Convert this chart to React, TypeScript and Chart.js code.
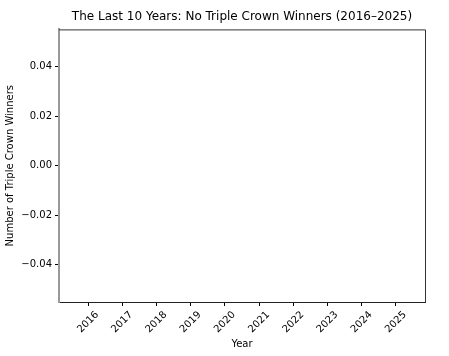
import React, { useEffect, useRef } from "react";
import { Chart, registerables } from "chart.js";

Chart.register(...registerables);

const years = [2016, 2017, 2018, 2019, 2020, 2021, 2022, 2023, 2024, 2025];
const winners = [0, 0, 0, 0, 0, 0, 0, 0, 0, 0];
const yTickValues = [-0.04, -0.02, 0.0, 0.02, 0.04];
const titleText = "The Last 10 Years: No Triple Crown Winners (2016\u20132025)";
const xTitle = "Year";
const yTitle = "Number of Triple Crown Winners";

const FONT = "'DejaVu Sans', sans-serif";

const framePlugin = {
  id: "frame",
  afterDraw(chart: any) {
    const { ctx, chartArea } = chart;
    ctx.save();
    ctx.strokeStyle = "#333";
    ctx.lineWidth = 1;
    ctx.beginPath();
    ctx.moveTo(chartArea.left, chartArea.top + 0.5);
    ctx.lineTo(chartArea.right + 0.5, chartArea.top + 0.5);
    ctx.lineTo(chartArea.right + 0.5, chartArea.bottom);
    ctx.stroke();
    ctx.restore();
  },
};

export default function App() {
  const ref = useRef<HTMLCanvasElement>(null);
  useEffect(() => {
    if (!ref.current) return;
    const chart = new Chart(ref.current, {
      type: "bar",
      data: {
        datasets: [
          {
            label: "Triple Crown Winners",
            data: years.map((y, i) => ({ x: y, y: winners[i] })),
            backgroundColor: "#1f77b4",
            borderWidth: 0,
            barPercentage: 0.8,
            categoryPercentage: 1,
          },
        ],
      },
      options: {
        responsive: false,
        animation: false,
        devicePixelRatio: 1,
        layout: { padding: { left: 0, right: 24, top: 0, bottom: 0 } },
        plugins: {
          legend: { display: false },
          tooltip: { enabled: false },
          title: {
            display: true,
            fullSize: false,
            text: titleText,
            color: "#000",
            font: { family: FONT, size: 12, weight: "normal" },
            padding: { top: 10, bottom: 5 },
          },
        },
        scales: {
          x: {
            type: "linear",
            offset: false,
            min: 2015.15,
            max: 2025.85,
            afterBuildTicks: (scale: any) => {
              scale.ticks = years.map((v) => ({ value: v }));
            },
            afterFit: (scale: any) => {
              scale.height = 54;
            },
            ticks: {
              autoSkip: false,
              maxRotation: 45,
              minRotation: 45,
              labelOffset: 9,
              padding: 3,
              color: "#000",
              font: { family: FONT, size: 10 },
              callback: (v: any) => String(v),
            },
            grid: {
              display: true,
              offset: false,
              drawOnChartArea: false,
              drawTicks: true,
              tickLength: 4,
              tickColor: "#000",
            },
            border: { display: true, color: "#222", width: 1 },
            title: {
              display: true,
              text: xTitle,
              color: "#000",
              font: { family: FONT, size: 10 },
              padding: { top: 0, bottom: 6 },
            },
          },
          y: {
            type: "linear",
            min: -0.055,
            max: 0.055,
            afterBuildTicks: (scale: any) => {
              scale.ticks = yTickValues.map((v) => ({ value: v }));
            },
            afterFit: (scale: any) => {
              scale.width = 59;
            },
            ticks: {
              color: "#000",
              padding: 3,
              font: { family: FONT, size: 10 },
              callback: (v: any) => {
                const n = Number(v);
                const s = Math.abs(n).toFixed(2);
                return n < -1e-9 ? "\u2212" + s : s;
              },
            },
            grid: {
              display: true,
              drawOnChartArea: false,
              drawTicks: true,
              tickLength: 4,
              tickColor: "#000",
            },
            border: { display: true, color: "#999", width: 2 },
            title: {
              display: true,
              text: yTitle,
              color: "#000",
              font: { family: FONT, size: 10 },
              padding: { top: 4, bottom: 0 },
            },
          },
        },
      },
      plugins: [framePlugin],
    } as any);
    return () => chart.destroy();
  }, []);
  return (
    <div style={{ position: "fixed", left: 0, top: 0, width: 449, height: 356, background: "#fff" }}>
      <canvas ref={ref} width={449} height={356} style={{ width: 449, height: 356 }} />
    </div>
  );
}
